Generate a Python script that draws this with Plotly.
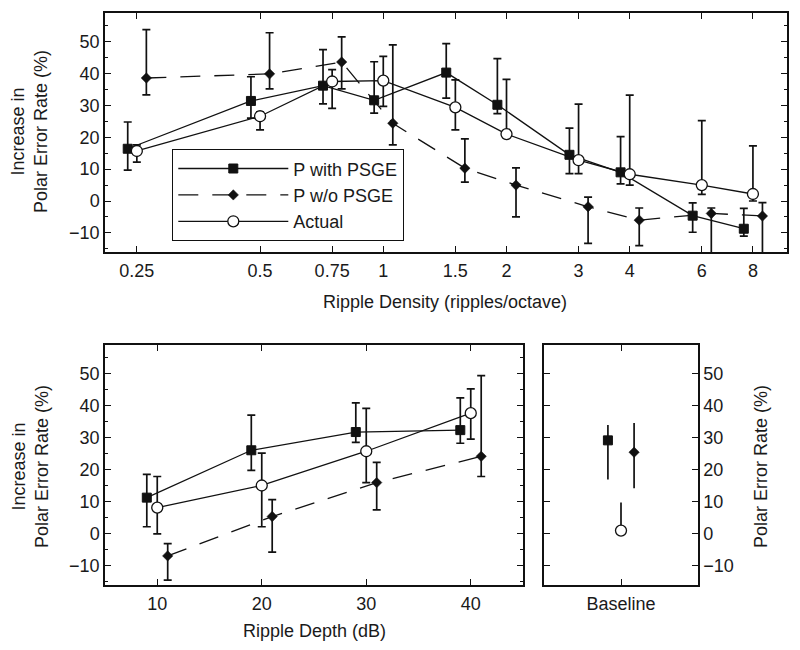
import plotly.graph_objects as go
import numpy as np

# ---------------- data ----------------
density = [0.25, 0.5, 0.75, 1, 1.5, 2, 3, 4, 6, 8]
density_ticks = ["0.25", "0.5", "0.75", "1", "1.5", "2", "3", "4", "6", "8"]

psge_val = [16.4, 31.4, 36.2, 31.6, 40.3, 30.2, 14.5, 9.0, -4.6, -8.7]
psge_hi = [24.8, 39.0, 47.5, 43.7, 49.4, 44.7, 22.9, 20.2, -0.6, -2.3]
psge_lo = [9.7, 26.0, 30.5, 27.6, 32.3, 27.4, 8.6, 5.4, -9.8, -11.0]

nopsge_val = [38.6, 39.9, 43.6, 24.4, 10.3, 5.0, -1.8, -6.0, -3.9, -4.7]
nopsge_hi = [53.8, 52.8, 51.5, 49.0, 19.5, 10.4, 1.2, -2.2, -2.2, -0.5]
nopsge_lo = [33.3, 35.2, 35.2, 17.6, 5.9, -5.0, -13.3, -14.0, -22.0, -22.0]

actual_val = [15.7, 26.6, 37.5, 37.8, 29.4, 21.0, 12.8, 8.4, 5.0, 2.2]
actual_hi = [17.6, 28.0, 41.2, 45.4, 38.0, 38.2, 30.4, 33.2, 25.2, 17.3]
actual_lo = [12.2, 22.3, 29.1, 29.7, 22.3, 21.0, 8.6, 5.0, 2.1, 0.0]

depth = [10, 20, 30, 40]
d_psge_val = [11.3, 26.1, 31.8, 32.4]
d_psge_hi = [18.6, 37.1, 40.9, 42.5]
d_psge_lo = [2.2, 19.8, 28.6, 28.3]

d_nopsge_val = [-6.9, 5.4, 16.0, 24.2]
d_nopsge_hi = [-3.1, 10.7, 22.3, 49.4]
d_nopsge_lo = [-14.5, -5.7, 7.5, 17.9]

d_actual_val = [8.2, 15.1, 25.8, 37.7]
d_actual_hi = [17.9, 25.2, 39.2, 45.3]
d_actual_lo = [0.0, 2.2, 16.0, 29.6]

base_label = ["Baseline"]
b_psge_val = [29.2]
b_psge_hi = [34.0]
b_psge_lo = [17.0]
b_nopsge_val = [25.5]
b_nopsge_hi = [34.6]
b_nopsge_lo = [14.2]
b_actual_val = [1.0]
b_actual_hi = [9.8]
b_actual_lo = [1.0]

names = ["P with PSGE", "P w/o PSGE", "Actual"]

# ---------------- styles ----------------
FONT = "Liberation Sans, Arial, sans-serif"
BLACK = "#111111"
W, H = 800, 650


def err(v, hi, lo, cap):
    v = np.array(v)
    return dict(type="data", symmetric=False, array=list(np.array(hi) - v),
                arrayminus=list(v - np.array(lo)), color=BLACK,
                thickness=1.7, width=cap)


styles = [
    dict(marker=dict(symbol="square", size=9, color=BLACK, line=dict(width=1, color=BLACK)),
         line=dict(color=BLACK, width=1.3)),
    dict(marker=dict(symbol="diamond", size=8, color=BLACK, line=dict(width=0.5, color=BLACK)),
         line=dict(color=BLACK, width=1.3, dash="20px,14px")),
    dict(marker=dict(symbol="circle", size=11, color="white", line=dict(width=1.3, color=BLACK)),
         line=dict(color=BLACK, width=1.3)),
]

fig = go.Figure()

# top panel (log x with small horizontal offsets per series)
top_sets = [(psge_val, psge_hi, psge_lo, 0.95),
            (nopsge_val, nopsge_hi, nopsge_lo, 1.055),
            (actual_val, actual_hi, actual_lo, 1.0)]
for i, (v, hi, lo, f) in enumerate(top_sets):
    fig.add_trace(go.Scatter(
        x=[d * f for d in density], y=v, mode="lines+markers", name=names[i],
        error_y=err(v, hi, lo, 4), xaxis="x", yaxis="y", showlegend=True,
        **styles[i]))

# bottom-left panel
bl_sets = [(d_psge_val, d_psge_hi, d_psge_lo, -1.0),
           (d_nopsge_val, d_nopsge_hi, d_nopsge_lo, 1.0),
           (d_actual_val, d_actual_hi, d_actual_lo, 0.0)]
for i, (v, hi, lo, off) in enumerate(bl_sets):
    fig.add_trace(go.Scatter(
        x=[d + off for d in depth], y=v, mode="lines+markers", name=names[i],
        error_y=err(v, hi, lo, 4), xaxis="x2", yaxis="y2", showlegend=False,
        **styles[i]))

# baseline panel
b_sets = [(b_psge_val, b_psge_hi, b_psge_lo, -0.17),
          (b_nopsge_val, b_nopsge_hi, b_nopsge_lo, 0.17),
          (b_actual_val, b_actual_hi, b_actual_lo, 0.0)]
for i, (v, hi, lo, off) in enumerate(b_sets):
    fig.add_trace(go.Scatter(
        x=[off], y=v, mode="markers", name=names[i],
        error_y=err(v, hi, lo, 0), xaxis="x3", yaxis="y3", showlegend=False,
        marker=styles[i]["marker"]))


def px_x(a, b):
    return [a / W, b / W]


def px_y(top, bottom):
    return [1 - bottom / H, 1 - top / H]


axis_common = dict(showline=True, linecolor=BLACK, linewidth=1.5, mirror="allticks",
                   ticks="inside", ticklen=6, tickwidth=1.3, tickcolor=BLACK,
                   showgrid=False, zeroline=False,
                   tickfont=dict(family=FONT, size=18, color="#1a1a1a"))

yticks = [-10, 0, 10, 20, 30, 40, 50]
ytext = ["\u221210", "0", "10", "20", "30", "40", "50"]
minor = dict(ticks="inside", ticklen=3, tickwidth=1, tickcolor=BLACK, dtick=5, showgrid=False)

fig.update_layout(
    width=W, height=H, margin=dict(l=0, r=0, t=0, b=0),
    paper_bgcolor="white", plot_bgcolor="white",
    font=dict(family=FONT, size=18, color="#1a1a1a"),
    xaxis=dict(domain=px_x(105, 787), anchor="y", type="log",
               range=[np.log10(0.209), np.log10(9.69)],
               tickvals=density, ticktext=density_ticks, ticklabelstandoff=2,
               **axis_common),
    yaxis=dict(domain=px_y(13, 252), anchor="x", range=[-16, 59],
               tickvals=yticks, ticktext=ytext, minor=minor, **axis_common),
    xaxis2=dict(domain=px_x(105, 523), anchor="y2", range=[5, 45],
                tickvals=depth, ticktext=[str(d) for d in depth], ticklabelstandoff=2,
                **axis_common),
    yaxis2=dict(domain=px_y(345, 585), anchor="x2", range=[-16, 59],
                tickvals=yticks, ticktext=ytext, minor=minor, **axis_common),
    xaxis3=dict(domain=px_x(544, 698), anchor="y3", range=[-1, 1],
                tickvals=[0], ticktext=base_label, ticklabelstandoff=2, **axis_common),
    yaxis3=dict(domain=px_y(345, 585), anchor="x3", range=[-16, 59], side="right",
                tickvals=yticks, ticktext=ytext, **axis_common),
    legend=dict(x=172 / W, y=1 - 149 / H, xanchor="left", yanchor="top",
                bordercolor=BLACK, borderwidth=1.3, bgcolor="white",
                font=dict(family=FONT, size=18, color="#1a1a1a"),
                itemwidth=110, tracegroupgap=0),
    showlegend=True,
)

ann_font = dict(family=FONT, size=18, color="#1a1a1a")
common_ann = dict(xref="paper", yref="paper", showarrow=False, font=ann_font,
                  xanchor="center", yanchor="middle")
fig.add_annotation(text="Increase in<br>Polar Error Rate (%)",
                   x=30 / W, y=1 - 132 / H, textangle=-90, **common_ann)
fig.add_annotation(text="Increase in<br>Polar Error Rate (%)",
                   x=30 / W, y=1 - 467 / H, textangle=-90, **common_ann)
fig.add_annotation(text="Ripple Density (ripples/octave)",
                   x=445 / W, y=1 - 302 / H, **common_ann)
fig.add_annotation(text="Ripple Depth (dB)",
                   x=314 / W, y=1 - 631 / H, **common_ann)
fig.add_annotation(text="Polar Error Rate (%)",
                   x=761 / W, y=1 - 467 / H, textangle=-90, **common_ann)

fig.write_html("out.html", config={"displayModeBar": False},
               post_script="document.body.style.margin='0px';")
